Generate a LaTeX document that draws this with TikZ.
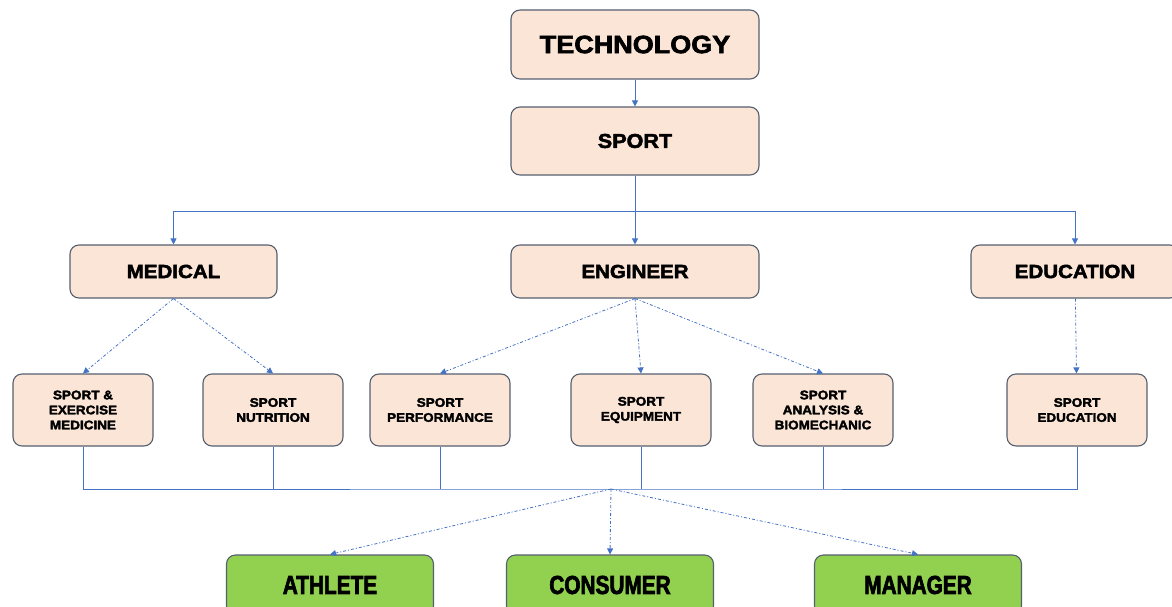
\documentclass[tikz,border=0pt]{standalone}
\usepackage{fontspec}
\setmainfont{Liberation Sans}
\newfontfamily\heavyfont[FakeStretch=1.08, BoldFeatures={FakeBold=2.5, FakeStretch=1.08}]{Liberation Sans}
\newfontfamily\narrowfont[FakeStretch=0.8, BoldFeatures={FakeBold=2.5, FakeStretch=0.8}]{Liberation Sans}
\usetikzlibrary{arrows.meta}
\definecolor{peach}{RGB}{251,229,214}
\definecolor{boxline}{RGB}{84,96,112}
\definecolor{leafgreen}{RGB}{146,208,80}
\definecolor{linkblue}{RGB}{68,114,196}
\tikzset{
  headbox/.style={draw=boxline, fill=peach, rounded corners=9pt, line width=1.1pt, inner sep=0pt, align=center},
  fieldbox/.style={headbox, minimum height=53pt, font=\heavyfont\bfseries\fontsize{19}{21}\selectfont},
  subbox/.style={headbox, minimum width=140pt, minimum height=72pt, font=\heavyfont\bfseries\fontsize{12.5}{15}\selectfont},
  userbox/.style={headbox, fill=leafgreen, minimum width=207pt, minimum height=60pt, font=\narrowfont\bfseries\fontsize{26}{28}\selectfont},
  link/.style={draw=linkblue, line width=0.8pt, -{Triangle[length=6pt,width=6pt]}},
  duct/.style={draw=linkblue, line width=0.8pt},
  hint/.style={link, dash pattern=on 3pt off 2pt on 1pt off 2pt}
}
\begin{document}
\begin{tikzpicture}[x=1pt, y=-1pt]
  \useasboundingbox (0,0) rectangle (1172,607);

  \node[headbox, minimum width=248pt, minimum height=69pt, font=\heavyfont\bfseries\fontsize{25}{27}\selectfont] (tech) at (635,44.5) {TECHNOLOGY};
  \node[headbox, minimum width=248pt, minimum height=68pt, font=\heavyfont\bfseries\fontsize{20}{22}\selectfont] (sport) at (635,141) {SPORT};

  \node[fieldbox, minimum width=207pt] (medical) at (173.5,271.5) {MEDICAL};
  \node[fieldbox, minimum width=248pt] (engineer) at (635,271.5) {ENGINEER};
  \node[fieldbox, minimum width=208pt] (education) at (1075,271.5) {EDUCATION};

  \node[subbox] (sem) at (83,410) {SPORT \&\\EXERCISE\\MEDICINE};
  \node[subbox] (snut) at (273,410) {SPORT\\NUTRITION};
  \node[subbox] (sperf) at (440,410) {SPORT\\PERFORMANCE};
  \node[subbox] (sequip) at (641,410) {SPORT\\EQUIPMENT};
  \node[subbox] (sana) at (823,410) {SPORT\\ANALYSIS \&\\BIOMECHANIC};
  \node[subbox] (sedu) at (1077,410) {SPORT\\EDUCATION};

  \node[userbox] (athlete) at (330,585) {ATHLETE};
  \node[userbox] (consumer) at (610,585) {CONSUMER};
  \node[userbox] (manager) at (918,585) {MANAGER};

  \coordinate (fork) at (635,211);
  \coordinate (hub) at (611,489);

  \draw[link] (tech) -- (sport);
  \draw[link] (sport) -- (fork) -| (medical);
  \draw[link] (fork) -| (education);
  \draw[link] (fork) -- (engineer);

  \draw[hint] (medical.south) -- (sem.north);
  \draw[hint] (medical.south) -- (snut.north);
  \draw[hint] (engineer.south) -- (sperf.north);
  \draw[hint] (engineer.south) -- (sequip.north);
  \draw[hint] (engineer.south) -- (sana.north);
  \draw[hint] (education) -- (sedu);

  \draw[duct] (sem.south) |- (hub) -| (sedu.south);
  \foreach \n in {snut, sperf, sequip, sana}
    \draw[duct] (\n.south) -- (\n.south |- hub);

  \draw[hint] (hub) -- (athlete.north);
  \draw[hint] (hub) -- (consumer.north);
  \draw[hint] (hub) -- (manager.north);
\end{tikzpicture}
\end{document}
